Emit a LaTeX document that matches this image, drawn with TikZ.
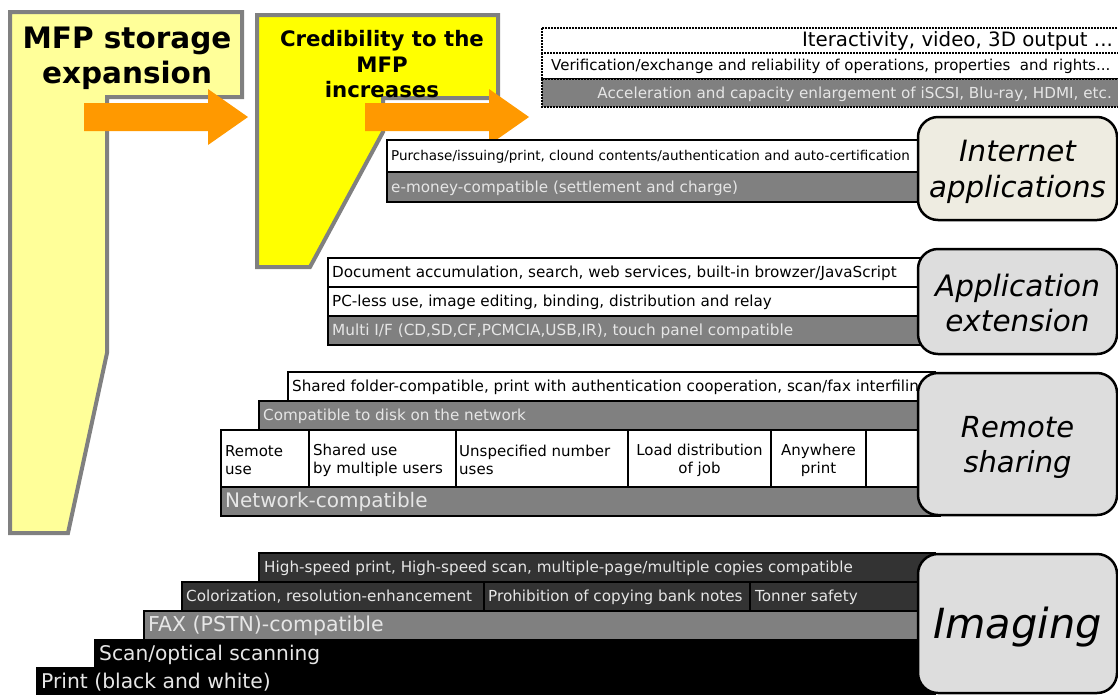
\documentclass[tikz,border=0pt]{standalone}
\usepackage{fontspec}
\setmainfont{DejaVu Sans}

\definecolor{paleyellow}{HTML}{FFFF99}
\definecolor{brightyellow}{HTML}{FFFF00}
\definecolor{arroworange}{HTML}{FF9900}
\definecolor{midgray}{HTML}{808080}
\definecolor{darkrow}{HTML}{333333}
\definecolor{beige}{HTML}{EEECE1}
\definecolor{catgray}{HTML}{DDDDDD}
\definecolor{paletext}{HTML}{E6E6E6}

\newcommand{\sz}[2]{\fontsize{#1}{#2}\selectfont}

\begin{document}
\begin{tikzpicture}[x=1pt, y=-1pt,
  rowline/.style={draw=black, line width=2pt},
  rowtext/.style={anchor=west, inner sep=0pt},
  lighttext/.style={rowtext, text=paletext},
  catbox/.style={draw=black, line width=2.5pt, rounded corners=20pt, minimum width=199pt, inner sep=0pt},
  catlabel/.style={align=center, inner sep=0pt},
  dotbox/.style={draw=black, line width=2pt, dash pattern=on 1.6pt off 1.4pt},
  stepshape/.style={draw=midgray, line width=4pt}]

\useasboundingbox (0,0) rectangle (1118,694);

% the two yellow steps
\draw [stepshape, fill=paleyellow] (10,12) -- (242,12) -- (242,97) -- (107,97) -- (107,353) -- (68,533) -- (10,533) -- cycle;
\draw [stepshape, fill=brightyellow] (257,15) -- (498,15) -- (498,98) -- (383,98) -- (383,132) -- (310,267) -- (257,267) -- cycle;

\foreach \ax in {84,365} {
	\fill [arroworange] (\ax,103) -- ++(124,0) -- ++(0,-14) -- ++(40,28) -- ++(-40,28) -- ++(0,-14) -- ++(-124,0) -- cycle;
}

\node [font=\bfseries\sz{29.5}{35}, align=center] (storage) at (127,58) {MFP storage\\expansion};
\node [font=\bfseries\sz{21.3}{25.5}, align=center] (credible) at (382,64.5) {Credibility to the\\MFP\\increases};

% future
\draw [dotbox, fill=white] (542,28) rectangle (1130,53);
\draw [dotbox, fill=white] (542,53) rectangle (1130,79);
\draw [dotbox, fill=midgray] (542,79) rectangle (1130,107);
\node [rowtext, anchor=east, font=\sz{19.8}{23}] (interact) at (1113,41) {Iteractivity, video, 3D output ...};
\node [rowtext, font=\sz{15}{18}] (verif) at (551,66) {Verification/exchange and reliability of operations, properties~ and rights...};
\node [lighttext, anchor=east, font=\sz{15.2}{18}] (accel) at (1112,94) {Acceleration and capacity enlargement of iSCSI, Blu-ray, HDMI, etc.};

% internet applications
\draw [rowline, fill=white] (387,140) rectangle (935,172);
\draw [rowline, fill=midgray] (387,172) rectangle (935,202);
\node [rowtext, font=\sz{13.5}{16}] (purchase) at (391,157) {Purchase/issuing/print, clound contents/authentication and auto-certification};
\node [lighttext, font=\sz{15.2}{18}] (emoney) at (391,188) {e-money-compatible (settlement and charge)};
\node [catbox, fill=beige, minimum height=103pt] (internet) at (1017.5,168.5) {};
\node [catlabel, font=\itshape\sz{29.3}{36}] (internettext) at ([yshift=-3pt]internet.center) {Internet\\applications};

% application extension
\draw [rowline, fill=white] (328,258) rectangle (935,287);
\draw [rowline, fill=white] (328,287) rectangle (935,316);
\draw [rowline, fill=midgray] (328,316) rectangle (935,345);
\node [rowtext, font=\sz{15.2}{18}] (document) at (332,273.5) {Document accumulation, search, web services, built-in browzer/JavaScript};
\node [rowtext, font=\sz{15.2}{18}] (pcless) at (332,302.5) {PC-less use, image editing, binding, distribution and relay};
\node [lighttext, font=\sz{15.3}{18}] (multi) at (332,331.5) {Multi I/F (CD,SD,CF,PCMCIA,USB,IR), touch panel compatible};
\node [catbox, fill=catgray, minimum height=105pt] (appext) at (1017.5,301.5) {};
\node [catlabel, font=\itshape\sz{29.5}{35}] (appexttext) at ([yshift=-1pt]appext.center) {Application\\extension};

% remote sharing
\draw [rowline, fill=white] (288,372) rectangle (935,401);
\draw [rowline, fill=midgray] (259,401) rectangle (935,430);
\draw [rowline, fill=white] (221,430) rectangle (935,487);
\foreach \cx in {309,456,628,771,866}
	\draw [rowline] (\cx,430) -- (\cx,487);
\draw [rowline, fill=midgray] (221,487) rectangle (940,516);
\node [rowtext, font=\sz{15.2}{18}] (folder) at (292,387) {Shared folder-compatible, print with authentication cooperation, scan/fax interfiling};
\node [lighttext, font=\sz{15.2}{18}] (disk) at (263,416) {Compatible to disk on the network};
\node [rowtext, align=left, font=\sz{15}{18}] (remuse) at (225,460) {Remote\\use};
\node [rowtext, align=left, font=\sz{15}{18}] (shared) at (313,460) {Shared use\\by multiple users};
\node [rowtext, align=left, font=\sz{15}{18}] (unspec) at (459,460) {Unspecified number\\uses};
\node [align=center, inner sep=0pt, font=\sz{15}{18}] (loaddist) at (699.5,460) {Load distribution\\of job};
\node [align=center, inner sep=0pt, font=\sz{15}{18}] (anywhere) at (818.5,460) {Anywhere\\print};
\node [lighttext, font=\sz{20}{24}] (network) at (225,502) {Network-compatible};
\node [catbox, fill=catgray, minimum height=142pt] (remote) at (1017.5,444) {};
\node [catlabel, font=\itshape\sz{29}{35}] (remotetext) at ([yshift=-3pt]remote.center) {Remote\\sharing};

% imaging
\draw [rowline, fill=darkrow] (259,553) rectangle (935,582);
\draw [rowline, fill=darkrow] (182,582) rectangle (935,611);
\draw [rowline] (484,582) -- (484,611);
\draw [rowline] (750,582) -- (750,611);
\draw [rowline, fill=midgray] (144,611) rectangle (935,640);
\draw [rowline, fill=black] (95,640) rectangle (935,668);
\draw [rowline, fill=black] (37,668) rectangle (935,700);
\node [lighttext, font=\sz{15.2}{18}] (highspeed) at (264,568) {High-speed print, High-speed scan, multiple-page/multiple copies compatible};
\node [lighttext, font=\sz{15.2}{18}] (color) at (186,597) {Colorization, resolution-enhancement};
\node [lighttext, font=\sz{15.2}{18}] (banknote) at (488,597) {Prohibition of copying bank notes};
\node [lighttext, font=\sz{15.2}{18}] (toner) at (755,597) {Tonner safety};
\node [lighttext, font=\sz{20.5}{24}] (fax) at (148,626) {FAX (PSTN)-compatible};
\node [lighttext, font=\sz{20.2}{24}] (scan) at (99,654.5) {Scan/optical scanning};
\node [lighttext, font=\sz{20.3}{24}] (print) at (41,682.5) {Print (black and white)};
\node [catbox, fill=catgray, minimum height=139pt] (imaging) at (1017.5,623.5) {};
\node [catlabel, font=\itshape\sz{41.5}{48}] (imagingtext) at ([yshift=-4pt]imaging.center) {Imaging};

\end{tikzpicture}
\end{document}
